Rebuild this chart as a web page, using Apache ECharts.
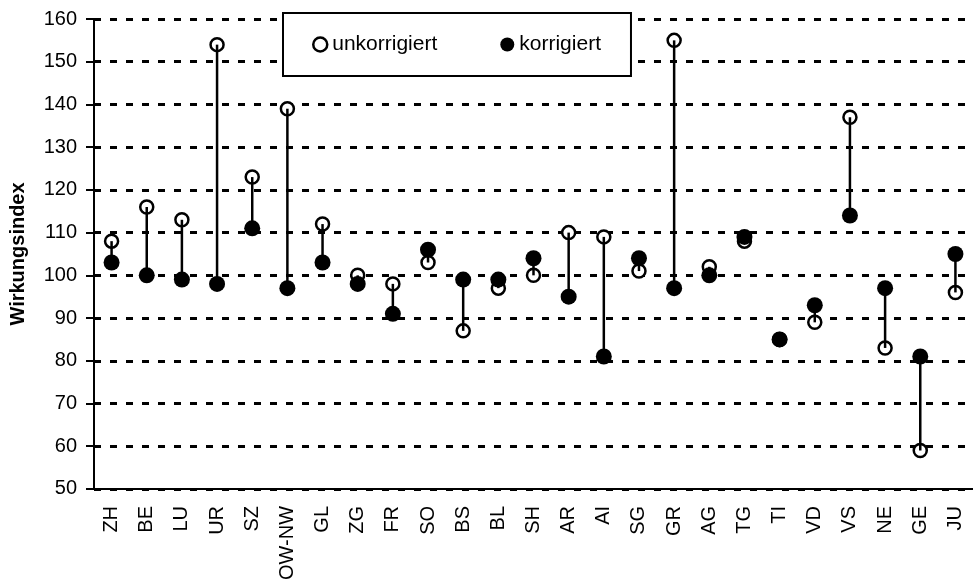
<!DOCTYPE html>
<html>
<head>
<meta charset="utf-8">
<script src="https://cdn.jsdelivr.net/npm/echarts@6/dist/echarts.min.js"></script>
<style>html,body{margin:0;padding:0;background:#fff;}#c{width:973px;height:583px;}</style>
</head>
<body>
<div id="c"></div>
<script>
var categories = ['ZH','BE','LU','UR','SZ','OW-NW','GL','ZG','FR','SO','BS','BL','SH','AR','AI','SG','GR','AG','TG','TI','VD','VS','NE','GE','JU'];
var unkorrigiert = [108,116,113,154,123,139,112,100,98,103,87,97,100,110,109,101,155,102,108,85,89,137,83,59,96];
var korrigiert   = [103,100,99,98,111,97,103,98,91,106,99,99,104,95,81,104,97,100,109,85,93,114,97,81,105];
var yTicks = {min: 50, max: 160, interval: 10};

var FONT = 'Liberation Sans, Arial, sans-serif';
var chart = echarts.init(document.getElementById('c'), null, {renderer: 'canvas'});

var pairs = categories.map(function (c, i) { return [i, unkorrigiert[i], korrigiert[i]]; });

chart.setOption({
  animation: false,
  backgroundColor: '#fff',
  grid: {left: 94, top: 19, width: 890, height: 470, containLabel: false},
  legend: {
    left: 283, top: 13,
    padding: [21, 30, 21, 29],
    itemGap: 63,
    itemWidth: 14, itemHeight: 14,
    borderColor: '#000', borderWidth: 2, backgroundColor: '#fff',
    textStyle: {fontFamily: FONT, fontSize: 21, color: '#000'},
    data: [
      {name: 'unkorrigiert', icon: 'circle', itemStyle: {color: '#fff', borderColor: '#000', borderWidth: 2.5}},
      {name: 'korrigiert', icon: 'circle', itemStyle: {color: '#000', borderWidth: 0}}
    ]
  },
  xAxis: {
    type: 'category',
    data: categories,
    boundaryGap: true,
    axisLine: {lineStyle: {color: '#000', width: 2}},
    axisTick: {show: false},
    axisLabel: {rotate: 90, margin: 17, fontFamily: FONT, fontSize: 20, color: '#000', interval: 0},
    splitLine: {show: false}
  },
  yAxis: {
    type: 'value',
    min: yTicks.min, max: yTicks.max, interval: yTicks.interval,
    name: 'Wirkungsindex',
    nameLocation: 'middle',
    nameRotate: 90,
    nameGap: 66,
    nameTextStyle: {fontFamily: FONT, fontSize: 20, fontWeight: 'bold', color: '#000'},
    axisLine: {show: true, lineStyle: {color: '#000', width: 2}},
    axisTick: {show: true, length: 8, lineStyle: {color: '#000', width: 2}},
    axisLabel: {margin: 17, fontFamily: FONT, fontSize: 20, color: '#000'},
    splitLine: {show: true, lineStyle: {color: '#000', width: 3, type: [7, 9], dashOffset: 0}}
  },
  series: [
    {
      name: 'unkorrigiert', type: 'scatter', z: 2,
      data: unkorrigiert.map(function (v, i) { return [i, v]; }),
      symbol: 'circle', symbolSize: 13,
      itemStyle: {color: '#fff', borderColor: '#000', borderWidth: 2.5, opacity: 1}
    },
    {
      name: 'range', type: 'custom', z: 3,
      data: pairs,
      encode: {x: 0, y: [1, 2]},
      renderItem: function (params, api) {
        var a = api.coord([api.value(0), api.value(1)]);
        var b = api.coord([api.value(0), api.value(2)]);
        return {type: 'line', shape: {x1: a[0], y1: a[1], x2: b[0], y2: b[1]}, style: {stroke: '#000', lineWidth: 2.5}};
      }
    },
    {
      name: 'korrigiert', type: 'scatter', z: 4,
      data: korrigiert.map(function (v, i) { return [i, v]; }),
      symbol: 'circle', symbolSize: 16,
      itemStyle: {color: '#000', opacity: 1}
    }
  ]
});
</script>
</body>
</html>
